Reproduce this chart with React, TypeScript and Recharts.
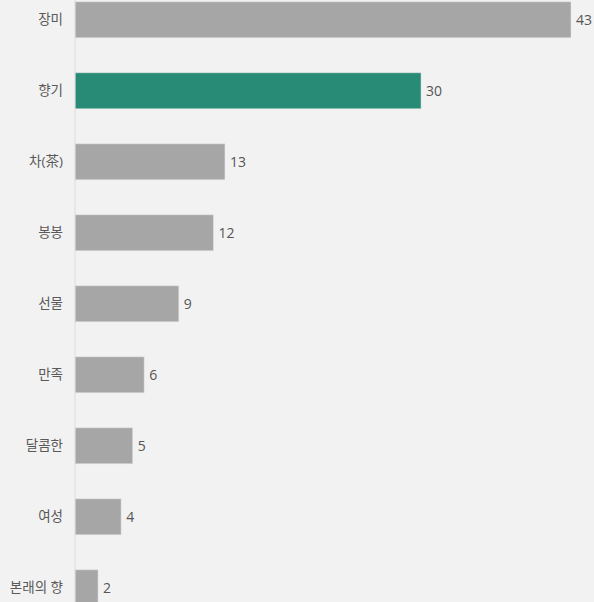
import React from 'react';
import { BarChart, Bar, XAxis, YAxis, Cell, LabelList } from 'recharts';

const categories = ['장미', '향기', '차(茶)', '봉봉', '선물', '만족', '달콤한', '여성', '본래의 향'];
const counts = [43, 30, 13, 12, 9, 6, 5, 4, 2];
const highlight = '향기';

const data = categories.map((name, i) => ({ name, value: counts[i] }));

const FONT = '"Open Sans", "Noto Sans CJK KR", sans-serif';

export default function App() {
  return (
    <div
      style={{
        position: 'fixed',
        left: 0,
        top: 0,
        width: 594,
        height: 602,
        overflow: 'hidden',
        background: '#f2f2f2',
        fontFamily: FONT,
      }}
    >
      <div style={{ position: 'absolute', left: 0, top: -16 }}>
        <BarChart
          layout="vertical"
          width={594}
          height={639}
          data={data}
          margin={{ top: 0, right: 23, bottom: 0, left: 0 }}
          barCategoryGap="25%"
        >
          <XAxis type="number" domain={[0, 43]} hide />
          <YAxis
            type="category"
            dataKey="name"
            width={75}
            tickLine={false}
            tickMargin={6}
            axisLine={{ stroke: '#dcdcdc' }}
            tick={{ fill: '#595959', fontSize: 13.5, fontFamily: FONT }}
            interval={0}
          />
          <Bar dataKey="value" isAnimationActive={false} stroke="#e6e6e6" strokeWidth={0.5}>
            {data.map((d) => (
              <Cell key={d.name} fill={d.name === highlight ? '#288b75' : '#a6a6a6'} />
            ))}
            <LabelList
              dataKey="value"
              position="right"
              offset={5}
              fill="#555555"
              fontSize={14}
              fontFamily={FONT}
            />
          </Bar>
        </BarChart>
      </div>
    </div>
  );
}
